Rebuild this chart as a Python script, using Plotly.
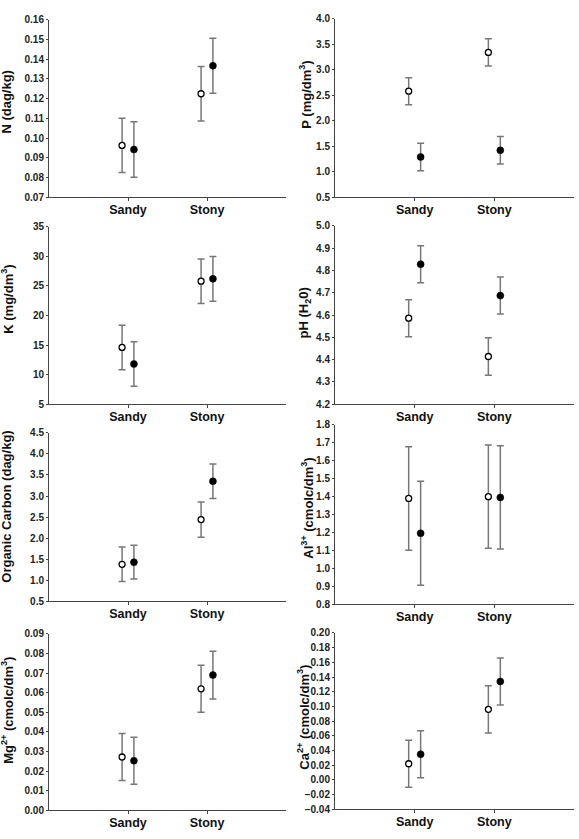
import plotly.graph_objects as go

categories = ["Sandy", "Stony"]

# mean values and half-width of error bars: (open symbol, filled symbol)
N_open = [0.0963, 0.1225];   N_open_err = [0.0137, 0.0138]
N_fill = [0.0942, 0.1367];   N_fill_err = [0.0141, 0.0140]

P_open = [2.58, 3.34];       P_open_err = [0.265, 0.268]
P_fill = [1.29, 1.42];       P_fill_err = [0.27, 0.27]

K_open = [14.6, 25.8];       K_open_err = [3.75, 3.77]
K_fill = [11.8, 26.2];       K_fill_err = [3.77, 3.77]

pH_open = [4.586, 4.414];    pH_open_err = [0.083, 0.084]
pH_fill = [4.828, 4.687];    pH_fill_err = [0.083, 0.083]

OC_open = [1.38, 2.44];      OC_open_err = [0.41, 0.42]
OC_fill = [1.43, 3.35];      OC_fill_err = [0.40, 0.41]

Al_open = [1.39, 1.40];      Al_open_err = [0.288, 0.288]
Al_fill = [1.196, 1.396];    Al_fill_err = [0.29, 0.288]

Mg_open = [0.0272, 0.0620];  Mg_open_err = [0.0120, 0.0120]
Mg_fill = [0.0253, 0.0690];  Mg_fill_err = [0.0120, 0.0122]

Ca_open = [0.022, 0.096];    Ca_open_err = [0.032, 0.032]
Ca_fill = [0.035, 0.134];    Ca_fill_err = [0.032, 0.032]

y_titles = ["N (dag/kg)", "P (mg/dm<sup>3</sup>)", "K (mg/dm<sup>3</sup>)", "pH (H<sub>2</sub>0)",
            "Organic Carbon (dag/kg)", "Al<sup>3+</sup> (cmolc/dm<sup>3</sup>)",
            "Mg<sup>2+</sup> (cmolc/dm<sup>3</sup>)", "Ca<sup>2+</sup> (cmolc/dm<sup>3</sup>)"]
y_ranges = [[0.07, 0.16], [0.5, 4.0], [5, 35], [4.2, 5.0], [0.5, 4.5], [0.8, 1.8], [0.0, 0.09], [-0.04, 0.20]]
y_dticks = [0.01, 0.5, 5, 0.1, 0.5, 0.1, 0.01, 0.02]
y_formats = [".2f", ".1f", "d", ".1f", ".1f", ".1f", ".2f", ".2f"]

panels = [
    (N_open, N_open_err, N_fill, N_fill_err),
    (P_open, P_open_err, P_fill, P_fill_err),
    (K_open, K_open_err, K_fill, K_fill_err),
    (pH_open, pH_open_err, pH_fill, pH_fill_err),
    (OC_open, OC_open_err, OC_fill, OC_fill_err),
    (Al_open, Al_open_err, Al_fill, Al_fill_err),
    (Mg_open, Mg_open_err, Mg_fill, Mg_fill_err),
    (Ca_open, Ca_open_err, Ca_fill, Ca_fill_err),
]

W, H = 579, 839
# pixel layout (top, bottom) of each plot area
px_rows = [(14, 194), (13, 194), (224, 404), (223, 404), (433, 604), (425, 607), (637, 816), (636, 815)]
px_cols = [(49, 286), (335, 574)]
title_pos = [(7, 97), (305, 90), (7, 298), (305, 312), (7, 508), (307, 510), (7, 715), (303, 722)]

OFF = 0.075
FONT = "Liberation Sans, Arial, sans-serif"
ERRC = "#777777"

fig = go.Figure()
layout = {}
for i, (yo, eo, yf, ef) in enumerate(panels):
    k = "" if i == 0 else str(i + 1)
    col = i % 2
    xs = list(range(len(categories)))
    fig.add_trace(go.Scatter(
        x=[v - OFF for v in xs], y=yo, mode="markers",
        xaxis="x" + k, yaxis="y" + k, showlegend=False,
        marker=dict(symbol="circle", size=6, color="white", line=dict(color="black", width=1.3)),
        error_y=dict(type="data", array=eo, visible=True, color=ERRC, thickness=1.5, width=3.5),
    ))
    fig.add_trace(go.Scatter(
        x=[v + OFF for v in xs], y=yf, mode="markers",
        xaxis="x" + k, yaxis="y" + k, showlegend=False,
        marker=dict(symbol="circle", size=7, color="black", line=dict(color="black", width=0.5)),
        error_y=dict(type="data", array=ef, visible=True, color=ERRC, thickness=1.5, width=3.5),
    ))
    x0, x1 = px_cols[col]
    t, b = px_rows[i]
    layout["xaxis" + k] = dict(
        domain=[x0 / W, x1 / W], anchor="y" + k, range=[-1, 2],
        tickvals=xs, ticktext=categories, showline=True, linecolor="#444", linewidth=1,
        ticks="outside", ticklen=3, tickcolor="#444", showgrid=False, zeroline=False,
        ticklabelstandoff=-2,
        tickfont=dict(family=FONT, size=12.5, color="#111", weight="bold"),
    )
    layout["yaxis" + k] = dict(
        domain=[1 - b / H, 1 - t / H], anchor="x" + k, range=y_ranges[i],
        dtick=y_dticks[i], tick0=y_ranges[i][0], tickformat=y_formats[i],
        showline=True, linecolor="#444", linewidth=1, ticks="outside", ticklen=2,
        tickcolor="#444", showgrid=False, zeroline=False,
        tickfont=dict(family=FONT, size=10, color="#222", weight="bold"),
    )

annotations = []
for i, txt in enumerate(y_titles):
    xp, yp = title_pos[i]
    annotations.append(dict(
        text=txt, x=xp / W, y=1 - yp / H, xref="paper", yref="paper",
        xanchor="center", yanchor="middle", textangle=-90, showarrow=False,
        font=dict(family=FONT, size=13, color="#111", weight="bold"),
    ))

fig.update_layout(
    width=W, height=H, margin=dict(l=0, r=0, t=0, b=0),
    paper_bgcolor="white", plot_bgcolor="white",
    annotations=annotations, **layout,
)

fig.write_html("out.html")
